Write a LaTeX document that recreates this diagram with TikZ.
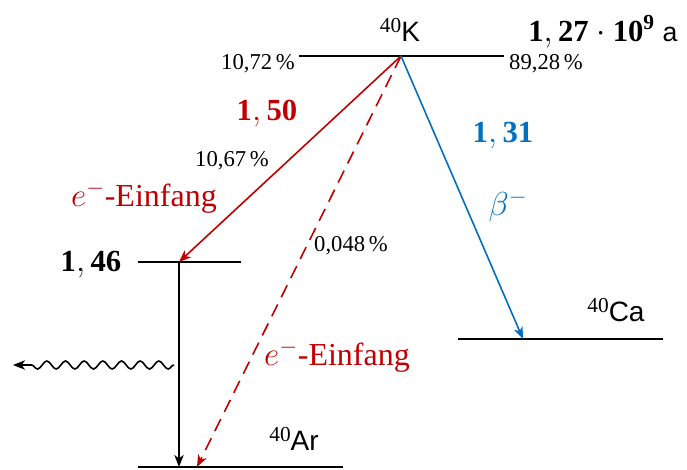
\documentclass[tikz,border=0pt]{standalone}
\usepackage{fontspec}
\setmainfont{Liberation Serif}
\setsansfont{Liberation Sans}
\usetikzlibrary{arrows.meta,decorations.pathmorphing}

\definecolor{capred}{RGB}{192,0,0}
\definecolor{betablue}{RGB}{0,112,192}

% nuclide with mass number
\newcommand{\iso}[2]{{\fontsize{16}{18}\selectfont\rmfamily\raisebox{6.5pt}{#1}}\sffamily #2}

\tikzset{
	level/.style={line width=1.5pt},
	trans/.style={line width=1.2pt, -{Stealth[length=9pt,width=7pt,inset=2.5pt]}},
	nuc/.style={font=\fontsize{21}{25}\selectfont\sffamily, inner sep=0pt},
	pct/.style={font=\fontsize{17}{20}\selectfont, inner sep=0pt},
	nrg/.style={font=\fontsize{23}{27}\selectfont, inner sep=0pt},
	capt/.style={font=\fontsize{24}{28}\selectfont, text=capred, inner sep=0pt}
}

\begin{document}
\begin{tikzpicture}[x=0.75pt,y=-0.75pt]
	\useasboundingbox (0,0) rectangle (687,469);
	
	% levels
	\coordinate (K1) at (299,56);  \coordinate (K2) at (504,56);
	\coordinate (M1) at (138,262); \coordinate (M2) at (241,262);
	\coordinate (C1) at (458,339); \coordinate (C2) at (663,339);
	\coordinate (A1) at (138,467); \coordinate (A2) at (343,467);
	\draw[level] (K1) -- (K2);
	\draw[level] (M1) -- (M2);
	\draw[level] (C1) -- (C2);
	\draw[level] (A1) -- (A2);
	
	% transition end points
	\coordinate (Kd) at (401,56);
	\coordinate (Mk) at (179,262);
	\coordinate (Ck) at (523,339);
	\coordinate (Am) at (179,467);
	\coordinate (Ad) at (197,467);
	\coordinate (Gs) at (174,365);
	\coordinate (Ge) at (13,365);
	
	% labels
	\node[nuc] (Klab) at (400,30) {\iso{40}{K}};
	\node[nrg, anchor=west] (Thalf) at (528,32) {$\mathbf{1,27}\cdot\mathbf{10}^{\mathbf{9}}$\ \fontsize{20}{24}\selectfont\sffamily a};
	\node[pct] (pK1) at (258,64) {10,72\,\%};
	\node[pct] (pK2) at (546,64) {89,28\,\%};
	\node[nrg, text=capred] (E150) at (267,114) {$\mathbf{1,50}$};
	\node[pct] (p1067) at (232,161) {10,67\,\%};
	\node[capt] (ec1) at (144,197) {$e^{-}$-Einfang};
	\node[nrg] (E146) at (91,265) {$\mathbf{1,46}$};
	\node[pct] (p0048) at (351,246) {0,048\,\%};
	\node[capt] (ec2) at (337,356) {$e^{-}$-Einfang};
	\node[nrg, text=betablue] (E131) at (503,136) {$\mathbf{1,31}$};
	\node[capt, text=betablue] (beta) at (508,206) {$\beta^{-}$};
	\node[nuc] (Calab) at (616,310) {\iso{40}{Ca}};
	\node[nuc] (Arlab) at (294,439) {\iso{40}{Ar}};
	
	% transitions
	\draw[trans, capred] (Kd) -- (Mk);
	\draw[trans, capred, dash pattern=on 10pt off 6pt] (Kd) -- (Ad);
	\draw[trans, betablue] (Kd) -- (Ck);
	\draw[trans] (Mk) -- (Am);
	\draw[line width=1.2pt, -{Stealth[length=9pt,width=7pt,inset=2.5pt]},
		decorate, decoration={snake, amplitude=3pt, segment length=14pt, post length=8pt}] (Gs) -- (Ge);
	
\end{tikzpicture}
\end{document}
